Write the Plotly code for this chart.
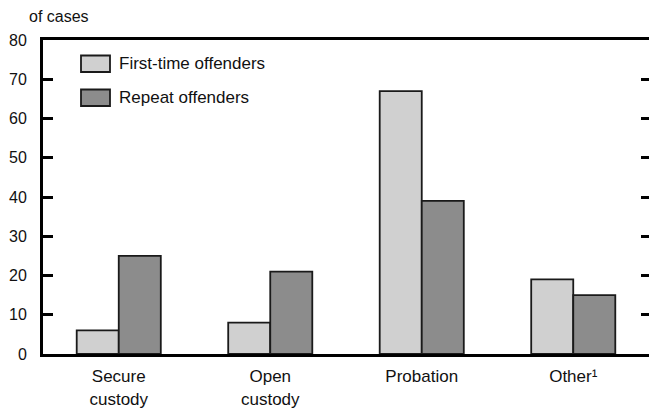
import plotly.graph_objects as go

categories = ["Secure<br>custody", "Open<br>custody", "Probation", "Other¹"]
first_time = [6, 8, 67, 19]
repeat = [25, 21, 39, 15]
series_names = ["First-time offenders", "Repeat offenders"]
colors = ["#d0d0d0", "#8c8c8c"]
y_ticks = [0, 10, 20, 30, 40, 50, 60, 70, 80]

W, H = 649, 408
L, R, T, B = 43, 0, 40, 54
PW, PH = W - L - R, H - T - B

def px_x(px):
    return (px - L) / PW

def px_y(py):
    return (H - B - py) / PH

font = dict(family="Liberation Sans, Arial, sans-serif", size=16, color="#111")
legend_font = dict(family="Liberation Sans, Arial, sans-serif", size=17, color="#111")

fig = go.Figure()
for name, vals, c in zip(series_names, [first_time, repeat], colors):
    fig.add_trace(go.Bar(x=categories, y=vals, name=name,
                         marker=dict(color=c, line=dict(color="#1a1a1a", width=1.8)),
                         showlegend=False))
# invisible trace for right axis ticks
fig.add_trace(go.Scatter(x=[categories[0]], y=[0], yaxis="y2", mode="markers",
                         marker=dict(opacity=0), showlegend=False, hoverinfo="skip"))

shapes = []
annotations = []
for i, (name, c) in enumerate(zip(series_names, colors)):
    y0, y1 = [(55.5, 72), (89.5, 106)][i]
    shapes.append(dict(type="rect", xref="paper", yref="paper", x0=px_x(81), x1=px_x(110),
                       y0=px_y(y1), y1=px_y(y0),
                       fillcolor=c, line=dict(color="#1a1a1a", width=1.8)))
    annotations.append(dict(xref="paper", yref="paper", x=px_x(117), y=px_y((y0 + y1) / 2), text=name,
                            showarrow=False, xanchor="left", yanchor="middle", font=legend_font))
annotations.append(dict(xref="paper", yref="paper", x=px_x(27), y=px_y(17), text="of cases", showarrow=False,
                        xanchor="left", yanchor="middle", font=font))

fig.update_layout(
    template="none",
    width=W, height=H, margin=dict(l=L, r=R, t=T, b=B, pad=0),
    paper_bgcolor="white", plot_bgcolor="white",
    barmode="group", bargap=0.445, bargroupgap=0,
    font=font,
    shapes=shapes, annotations=annotations,
    xaxis=dict(showline=True, linecolor="#000", linewidth=3, mirror=True, ticks="", showgrid=False,
               range=[-0.5, 3.5], tickfont=legend_font, automargin=False, ticklabelstandoff=5),
    yaxis=dict(range=[0, 80], tickvals=y_ticks, showline=True, linecolor="#000", linewidth=3, ticks="inside",
               ticklen=10, tickwidth=3, tickcolor="#000", showgrid=False, zeroline=False, tickfont=font,
               ticklabelstandoff=10, automargin=False),
    yaxis2=dict(range=[0, 80], tickvals=y_ticks[1:-1], overlaying="y", side="right", showline=False,
                ticks="inside", ticklen=8, tickwidth=3, tickcolor="#000", showticklabels=False,
                showgrid=False, zeroline=False, automargin=False),
)
fig.write_html("out.html", config={"displayModeBar": False},
               post_script="document.body.style.margin='0';document.body.style.overflow='hidden';")
